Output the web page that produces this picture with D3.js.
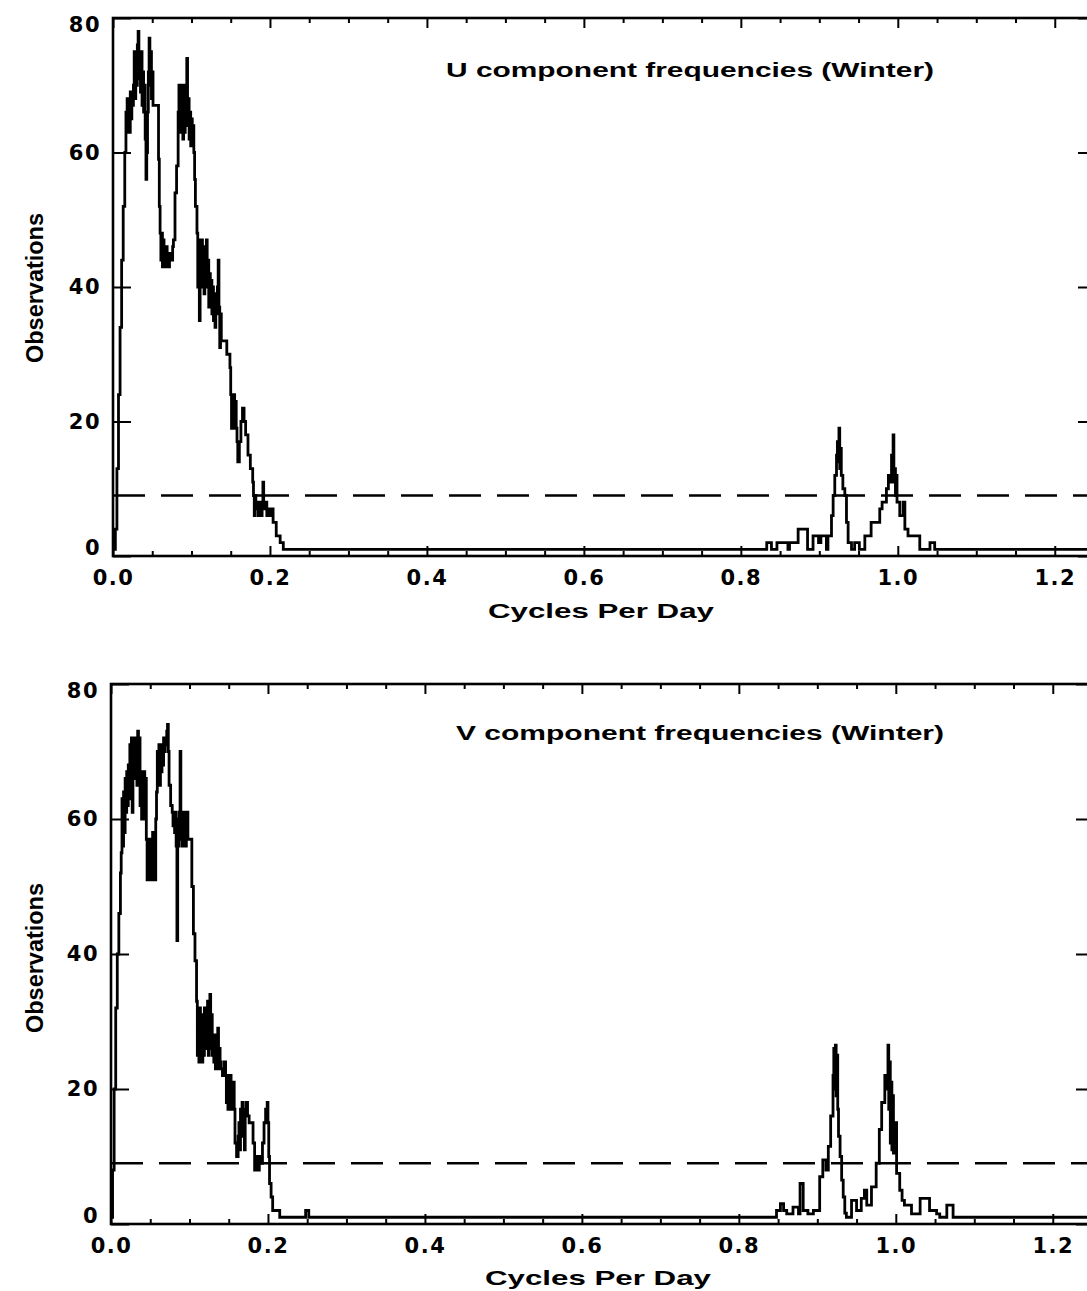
<!DOCTYPE html>
<html><head><meta charset="utf-8">
<script src="https://cdn.jsdelivr.net/npm/d3@7"></script>
<style>body{margin:0;background:#fff;} svg{display:block;}</style>
</head><body>
<svg id="chart" width="1087" height="1291"></svg>
<script>
// Frequency axis (cycles per day) and observation-count axis
const xMajorTicks = [0.0, 0.2, 0.4, 0.6, 0.8, 1.0, 1.2];
const xMajorLabels = ["0.0", "0.2", "0.4", "0.6", "0.8", "1.0", "1.2"];
const xMinorTicks = [0.05,0.10,0.15,0.25,0.30,0.35,0.45,0.50,0.55,0.65,0.70,0.75,0.85,0.90,0.95,1.05,1.10,1.15];
const yTicks = [0, 20, 40, 60, 80];
const yLabels = ["0", "20", "40", "60", "80"];
const thresholdLevel = 9;   // dashed reference level
const xMax = 1.25;

// U component histogram: [frequency (cpd), observations], drawn as steps
const uSteps = [
 [0.000,1],[0.003,4],[0.005,13],[0.007,24],[0.009,34],[0.011,44],[0.013,52],[0.015,60],[0.0165,66],
 [0.017,63],[0.018,68],[0.019,64],[0.020,68],[0.021,63],[0.022,69],[0.023,65],[0.024,68],[0.025,67],
 [0.026,70],[0.027,75],[0.028,68],[0.029,74],[0.030,70],[0.031,76],[0.032,78],[0.033,71],[0.034,75],[0.035,69],[0.036,75],[0.037,67],[0.038,72],[0.039,66],[0.040,70],
 [0.041,62],[0.042,56],[0.043,60],[0.044,66],
 [0.045,72],[0.046,77],[0.047,70],[0.048,75],[0.049,68],[0.050,72],[0.051,67],
 [0.058,59],[0.059,52],[0.060,48],
 [0.061,44],[0.062,48],[0.063,43],[0.064,47],[0.065,44],[0.066,45],[0.067,43],[0.068,46],[0.069,44],[0.070,44],[0.071,43],[0.072,45],[0.073,44],[0.074,45],[0.075,44],[0.076,46],[0.077,47],
 [0.079,54],[0.081,58],
 [0.083,66],[0.084,70],[0.085,63],[0.086,69],[0.087,64],[0.088,70],[0.089,62],[0.090,68],[0.091,63],[0.092,70],[0.093,66],[0.094,74],[0.095,64],[0.096,68],[0.097,62],[0.098,66],[0.099,61],[0.100,65],[0.101,61],[0.102,64],[0.103,60],
 [0.104,56],[0.105,52],
 [0.107,48],[0.108,40],[0.109,47],[0.110,35],[0.111,46],[0.112,40],[0.113,47],[0.114,41],[0.115,46],[0.116,39],[0.117,45],[0.118,40],[0.119,47],[0.120,41],[0.121,44],[0.122,37],[0.123,42],
 [0.124,38],[0.125,41],[0.126,36],[0.127,40],[0.128,35],[0.129,39],[0.130,34],[0.131,38],[0.132,36],[0.133,40],[0.134,44],[0.135,37],[0.136,31],[0.137,36],
 [0.138,32],[0.145,30],[0.149,28],[0.150,24],
 [0.151,19],[0.152,23],[0.153,19],[0.154,24],[0.155,20],[0.156,23],[0.157,19],
 [0.158,17],[0.159,14],[0.161,17],[0.163,20],[0.165,22],[0.167,20],[0.169,18],
 [0.172,15],[0.175,13],[0.178,11],
 [0.179,9],[0.180,6],[0.181,9],[0.182,7],
 [0.183,8],[0.185,6],[0.187,8],[0.189,6],[0.190,8],[0.191,11],[0.192,7],[0.194,8],[0.196,6],[0.198,7],[0.200,6],[0.202,7],
 [0.204,5],[0.208,3],[0.213,2],[0.217,1],
 [0.833,2],[0.839,1],[0.846,2],[0.860,1],[0.862,2],[0.867,2],[0.873,4],[0.885,1],[0.892,3],[0.899,2],[0.902,3],[0.909,1],
 [0.911,3],[0.9155,6],[0.9176,9],[0.9197,12],[0.9219,15],[0.923,17],[0.924,14],[0.925,19],[0.926,13],[0.927,16],[0.928,12],[0.930,10],[0.9325,9],[0.9346,5],[0.9367,2],[0.941,1],
 [0.945,2],[0.951,1],[0.958,3],[0.966,5],[0.977,7],[0.980,8],[0.9855,10],[0.988,12],[0.990,11],[0.992,15],[0.993,12],[0.994,18],[0.995,11],[0.996,13],[0.997,9],[0.998,12],[0.999,8],
 [1.0025,6],[1.0068,8],[1.009,4],[1.013,3],[1.028,1],[1.041,2],[1.047,1],
 [1.25,1]
];

// V component histogram: [frequency (cpd), observations]
const vSteps = [
 [0.000,1],[0.002,8],[0.004,20],[0.006,32],[0.008,40],[0.010,46],[0.012,52],[0.013,55],
 [0.014,63],[0.015,56],[0.016,64],[0.017,58],
 [0.018,66],[0.019,61],[0.020,67],[0.021,62],[0.022,68],[0.023,63],[0.024,71],[0.025,66],
 [0.026,72],[0.027,61],[0.028,70],[0.029,66],[0.030,72],[0.031,67],[0.032,71],[0.033,65],[0.034,73],[0.035,68],[0.036,72],
 [0.037,62],[0.038,67],[0.039,60],[0.040,66],[0.041,61],[0.042,67],[0.043,60],[0.044,66],
 [0.045,57],[0.046,51],[0.047,56],[0.048,51],[0.049,57],[0.050,51],[0.051,56],[0.052,51],[0.053,58],[0.054,51],[0.055,57],[0.056,51],[0.057,60],
 [0.058,64],[0.059,70],[0.060,66],[0.061,71],[0.062,65],[0.063,70],[0.064,67],[0.065,71],[0.066,68],[0.067,72],[0.068,70],[0.069,72],[0.070,71],[0.071,73],[0.072,74],[0.073,70],[0.074,65],
 [0.076,62],[0.078,61],[0.079,59],[0.080,61],[0.081,58],[0.082,61],
 [0.083,56],[0.084,42],[0.085,60],[0.086,56],[0.087,61],[0.088,70],[0.089,57],[0.090,61],[0.091,56],[0.092,60],[0.093,57],[0.094,61],[0.095,56],[0.096,58],[0.097,61],[0.098,57],
 [0.100,57],[0.103,50],[0.105,43],[0.107,39],
 [0.109,33],[0.110,25],[0.111,31],[0.112,24],[0.113,32],[0.114,26],[0.115,30],[0.116,24],[0.117,31],[0.118,25],[0.119,32],[0.120,26],[0.121,31],[0.122,27],[0.123,33],[0.124,25],[0.125,32],[0.126,34],[0.127,26],[0.128,31],[0.129,25],
 [0.130,27],[0.131,24],[0.132,28],[0.133,23],[0.134,27],[0.135,24],[0.136,29],[0.137,23],[0.138,26],[0.139,24],
 [0.140,23],[0.142,22],[0.144,24],[0.146,22],
 [0.147,18],[0.148,22],[0.149,17],[0.150,21],[0.151,17],[0.152,22],[0.153,17],[0.154,21],[0.155,18],[0.156,21],[0.157,17],
 [0.158,12],[0.160,10],[0.162,13],
 [0.163,15],[0.164,11],[0.165,17],[0.166,13],[0.167,18],[0.168,14],[0.169,16],[0.170,11],[0.171,17],[0.172,18],[0.174,16],
 [0.176,15],[0.181,12],[0.183,8],[0.186,10],[0.188,8],[0.189,10],[0.191,9],[0.193,12],
 [0.195,15],[0.197,17],[0.199,18],[0.200,15],[0.201,10],
 [0.202,6],[0.204,4],[0.206,2],[0.211,2],[0.215,1],
 [0.248,2],[0.252,1],
 [0.848,2],[0.853,3],[0.857,2],[0.861,1.5],[0.869,2.5],[0.876,1.5],[0.878,6],[0.882,2],[0.888,1.5],[0.895,2],
 [0.903,7],[0.907,9.5],[0.911,8],[0.914,11.5],[0.917,16],[0.920,22],[0.921,26],[0.922,20],[0.923,26.5],[0.924,19],[0.925,25],[0.926,17],[0.927,13],[0.929,10],[0.931,6.5],[0.933,4],[0.935,1.6],[0.937,1],
 [0.9436,3.5],[0.950,2],[0.956,3.8],[0.960,5],[0.963,2.8],[0.969,5.5],[0.975,9],[0.979,14],[0.982,18],[0.986,22],[0.988,20],[0.990,26.5],[0.991,17],[0.992,24],[0.993,12],[0.994,21],[0.995,11],[0.996,19],[0.997,10.5],[0.999,15],
 [1.001,7.5],[1.005,5],[1.008,3.5],[1.011,2.8],[1.020,1.5],[1.031,3.8],[1.043,2],[1.052,1.5],[1.056,1],[1.065,2.8],[1.073,1],
 [1.25,1]
];

const panels = [
  { steps: uSteps, title: "U component frequencies (Winter)",
    top: 18, bottom: 556, left: 113, right: 1094,
    titleX: 690, titleY: 70, yTitleX: 35, yTitleY: 288, xTitleX: 601, xTitleY: 610 },
  { steps: vSteps, title: "V component frequencies (Winter)",
    top: 684, bottom: 1224, left: 111, right: 1092,
    titleX: 700, titleY: 733, yTitleX: 35, yTitleY: 958, xTitleX: 598, xTitleY: 1277 }
];

const svg = d3.select("#chart");
const tickFont = "'DejaVu Sans', sans-serif";

panels.forEach(p => {
  const x = d3.scaleLinear().domain([0, xMax]).range([p.left, p.right]);
  const y = d3.scaleLinear().domain([0, 80]).range([p.bottom, p.top]);
  const g = svg.append("g");

  // histogram trace
  const line = d3.line().x(d => x(d[0])).y(d => y(d[1])).curve(d3.curveStepAfter);
  g.append("path").datum(p.steps)
    .attr("d", line).attr("fill", "none").attr("stroke", "#000")
    .attr("stroke-width", 2.8).attr("stroke-linejoin", "miter");

  // dashed reference level
  g.append("line")
    .attr("x1", p.left).attr("x2", p.right)
    .attr("y1", y(thresholdLevel)).attr("y2", y(thresholdLevel))
    .attr("stroke", "#000").attr("stroke-width", 2.3).attr("stroke-dasharray", "32,16");

  // bottom axis: major + minor ticks pointing inward
  const xb = g.append("g").attr("transform", `translate(0,${p.bottom})`)
    .call(d3.axisBottom(x).tickValues(xMajorTicks).tickSize(-10).tickSizeOuter(0)
      .tickFormat((d, i) => xMajorLabels[i]).tickPadding(16));
  xb.append("g").call(d3.axisBottom(x).tickValues(xMinorTicks).tickSize(-5).tickSizeOuter(0).tickFormat(""));
  // top axis
  const xt = g.append("g").attr("transform", `translate(0,${p.top})`)
    .call(d3.axisTop(x).tickValues(xMajorTicks).tickSize(-10).tickSizeOuter(0).tickFormat(""));
  xt.append("g").call(d3.axisTop(x).tickValues(xMinorTicks).tickSize(-5).tickSizeOuter(0).tickFormat(""));
  // left axis
  const yl = g.append("g").attr("transform", `translate(${p.left},0)`)
    .call(d3.axisLeft(y).tickValues(yTicks).tickSize(-18).tickSizeOuter(0)
      .tickFormat((d, i) => yLabels[i]).tickPadding(-6));
  // right axis
  g.append("g").attr("transform", `translate(${p.right},0)`)
    .call(d3.axisRight(y).tickValues(yTicks).tickSize(-16).tickSizeOuter(0).tickFormat(""));

  g.selectAll(".domain").remove();
  g.selectAll(".tick line").attr("stroke", "#000").attr("stroke-width", 2);

  // frame
  g.append("rect").attr("x", p.left).attr("y", p.top)
    .attr("width", p.right - p.left).attr("height", p.bottom - p.top)
    .attr("fill", "none").attr("stroke", "#000").attr("stroke-width", 2.6);

  // tick labels
  xb.selectAll(".tick text")
    .attr("font-family", tickFont).attr("font-weight", "bold").attr("font-size", 21)
    .attr("letter-spacing", 1.5).attr("fill", "#000").attr("dy", "0.71em").attr("y", 14);
  yl.selectAll(".tick text")
    .attr("font-family", tickFont).attr("font-weight", "bold").attr("font-size", 21)
    .attr("letter-spacing", 1.5).attr("fill", "#000")
    .attr("x", -12)
    .attr("dy", d => d === 0 ? "-0.05em" : (d === 80 ? "0.65em" : "0.33em"));

  // panel title
  g.append("text").attr("x", p.titleX).attr("y", p.titleY)
    .attr("text-anchor", "middle").attr("dominant-baseline", "central")
    .attr("font-family", "'Liberation Sans', Arial, sans-serif").attr("font-weight", "bold")
    .attr("font-size", 20).attr("textLength", 488).attr("lengthAdjust", "spacingAndGlyphs")
    .text(p.title);

  // axis titles
  g.append("text").attr("x", p.xTitleX).attr("y", p.xTitleY)
    .attr("text-anchor", "middle").attr("dominant-baseline", "central")
    .attr("font-family", "'Liberation Sans', Arial, sans-serif").attr("font-weight", "bold")
    .attr("font-size", 21).attr("textLength", 226).attr("lengthAdjust", "spacingAndGlyphs")
    .text("Cycles Per Day");
  g.append("text")
    .attr("transform", `translate(${p.yTitleX},${p.yTitleY}) rotate(-90)`)
    .attr("text-anchor", "middle").attr("dominant-baseline", "central")
    .attr("font-family", "'Liberation Sans Narrow', 'Liberation Sans', Arial, sans-serif")
    .attr("font-weight", "bold")
    .attr("font-size", 23).attr("textLength", 150).attr("lengthAdjust", "spacingAndGlyphs")
    .text("Observations");
});
</script>
</body></html>
